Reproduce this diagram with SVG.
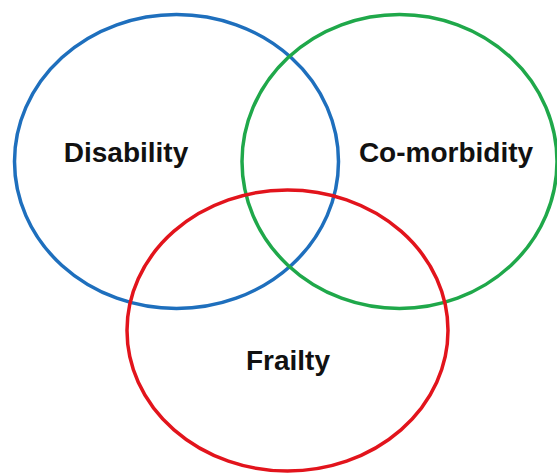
<svg xmlns="http://www.w3.org/2000/svg" width="557" height="473" viewBox="0 0 557 473">
<style>
.c{fill:none;stroke-width:3.5}
.t{font-family:"Liberation Sans",Arial,sans-serif;font-weight:bold;font-size:28px;fill:#111;text-anchor:middle}
</style>
<rect width="557" height="473" fill="#fff"/>
<g id="disability">
<ellipse class="c" cx="176.5" cy="161.5" rx="162" ry="147" stroke="#1e6fbd"/>
<text class="t" x="126" y="162">Disability</text>
</g>
<g id="comorbidity">
<ellipse class="c" cx="399.5" cy="161.5" rx="157.5" ry="147" stroke="#1fa84a"/>
<text class="t" x="446" y="162">Co-morbidity</text>
</g>
<g id="frailty">
<ellipse class="c" cx="287.5" cy="330.5" rx="160.5" ry="140.5" stroke="#e2141c"/>
<text class="t" x="288" y="370">Frailty</text>
</g>
<g id="connectors"/>
</svg>
